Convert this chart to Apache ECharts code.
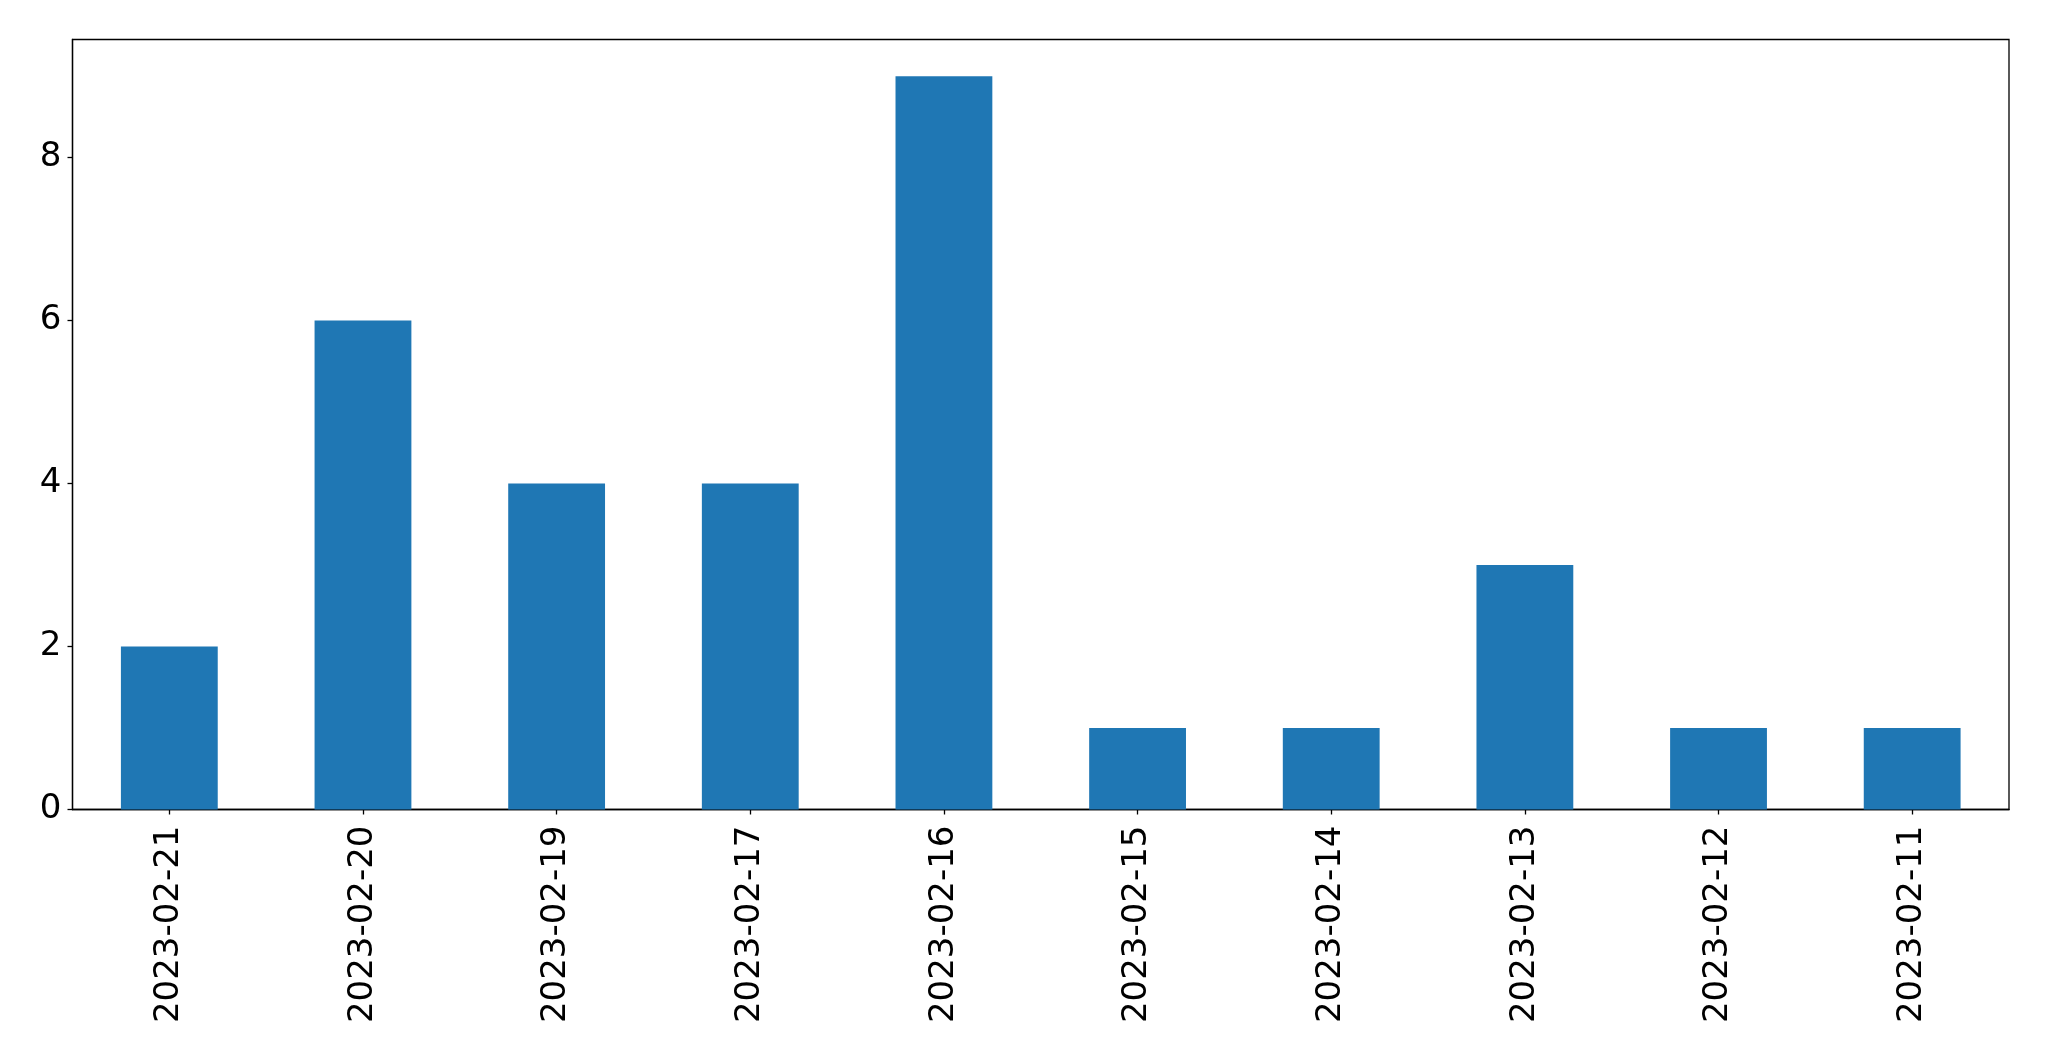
<!DOCTYPE html>
<html>
<head>
<meta charset="utf-8">
<script src="https://cdn.jsdelivr.net/npm/echarts@6/dist/echarts.min.js"></script>
<style>html,body{margin:0;padding:0;background:#fff}#c{width:2049px;height:1061px}</style>
</head>
<body>
<div id="c"></div>
<script>
const categories = ["2023-02-21","2023-02-20","2023-02-19","2023-02-17","2023-02-16","2023-02-15","2023-02-14","2023-02-13","2023-02-12","2023-02-11"];
const counts = [2,6,4,4,9,1,1,3,1,1];
const yTicks = [0,2,4,6,8];
const yMax = 9.45;

const chart = echarts.init(document.getElementById('c'), null, {renderer:'canvas'});
chart.setOption({
  animation: false,
  backgroundColor: '#fff',
  textStyle: {fontFamily: 'DejaVu Sans'},
  grid: {left: 72.5, top: 39.5, width: 1936.5, height: 770, containLabel: false, show: true, borderColor: '#000', borderWidth: 1.3, backgroundColor: 'transparent'},
  xAxis: {
    type: 'category',
    data: categories,
    boundaryGap: true,
    axisLine: {show: true, lineStyle: {color: '#000', width: 1.3}},
    axisTick: {show: true, alignWithLabel: true, length: 5, lineStyle: {color: '#000', width: 1.3}},
    axisLabel: {rotate: 90, margin: 16, color: '#000', fontSize: 34, fontFamily: 'DejaVu Sans', interval: 0},
    splitLine: {show: false}
  },
  yAxis: {
    type: 'value',
    min: 0,
    max: yMax,
    interval: 2,
    axisLine: {show: true, lineStyle: {color: '#000', width: 1.3}},
    axisTick: {show: true, length: 5, lineStyle: {color: '#000', width: 1.3}, customValues: yTicks},
    axisLabel: {margin: 11, color: '#000', fontSize: 34, fontFamily: 'DejaVu Sans', customValues: yTicks},
    splitLine: {show: false}
  },
  series: [{
    type: 'bar',
    data: counts,
    barWidth: '50%',
    itemStyle: {color: '#1f77b4'}
  }]
});
</script>
</body>
</html>
